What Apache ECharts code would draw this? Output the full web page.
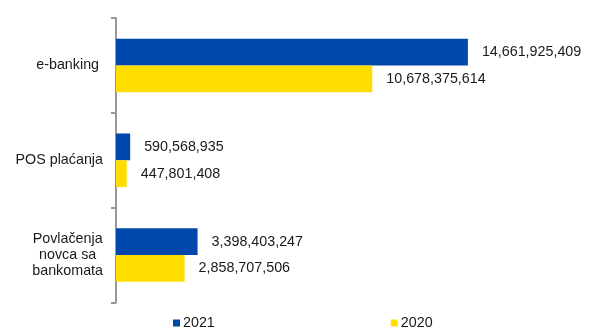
<!DOCTYPE html>
<html>
<head>
<meta charset="utf-8">
<script src="https://cdn.jsdelivr.net/npm/echarts@6/dist/echarts.min.js"></script>
<style>
html,body{margin:0;padding:0;background:#fff;}
#c{width:592px;height:329px;}
</style>
</head>
<body>
<div id="c"></div>
<script>
var categories = ['e-banking ', 'POS plaćanja', 'Povlačenja\nnovca sa\nbankomata'];
var seriesNames = ['2021', '2020'];
var values2021 = [14661925409, 590568935, 3398403247];
var values2020 = [10678375614, 447801408, 2858707506];

var FONT = '"Liberation Sans", Arial, sans-serif';
var FS = 14.3;
var chart = echarts.init(document.getElementById('c'), null, {renderer: 'canvas'});

function fmt(v) {
  return Number(v).toLocaleString('en-US');
}

var labelStyle = {
  show: true,
  position: 'right',
  distance: 14,
  color: '#1a1a1a',
  fontFamily: FONT,
  fontSize: FS,
  formatter: function (p) { return fmt(p.value); }
};

chart.setOption({
  animation: false,
  backgroundColor: '#ffffff',
  grid: {left: 116, top: 18, right: 44, bottom: 26.5, containLabel: false},
  legend: {
    data: seriesNames,
    left: 168,
    top: 311,
    itemWidth: 7,
    itemHeight: 7,
    itemGap: 176,
    icon: 'rect',
    textStyle: {fontFamily: FONT, fontSize: FS, color: '#1a1a1a', padding: [0, 0, 0, -2]}
  },
  xAxis: {
    type: 'value',
    min: 0,
    max: 18000000000,
    show: false
  },
  yAxis: {
    type: 'category',
    inverse: true,
    data: categories,
    axisLine: {show: true, lineStyle: {color: '#999999', width: 2}},
    axisTick: {show: true, length: 5, lineStyle: {color: '#999999', width: 2}},
    axisLabel: {
      margin: 13,
      fontFamily: FONT,
      fontSize: FS,
      color: '#1a1a1a',
      lineHeight: 16,
      formatter: function (v) {
        return v.split('\n').map(function (s) { return '{c|' + s + '}'; }).join('\n');
      },
      rich: {c: {align: 'center', fontFamily: FONT, fontSize: FS, color: '#1a1a1a', lineHeight: 16}}
    },
    splitLine: {show: false}
  },
  series: [
    {
      name: seriesNames[0],
      type: 'bar',
      data: values2021,
      barGap: '0%',
      barCategoryGap: '43.5%',
      itemStyle: {color: '#0047AB'},
      label: labelStyle
    },
    {
      name: seriesNames[1],
      type: 'bar',
      data: values2020,
      barGap: '0%',
      barCategoryGap: '43.5%',
      itemStyle: {color: '#FFDD00'},
      label: labelStyle
    }
  ]
});
</script>
</body>
</html>
